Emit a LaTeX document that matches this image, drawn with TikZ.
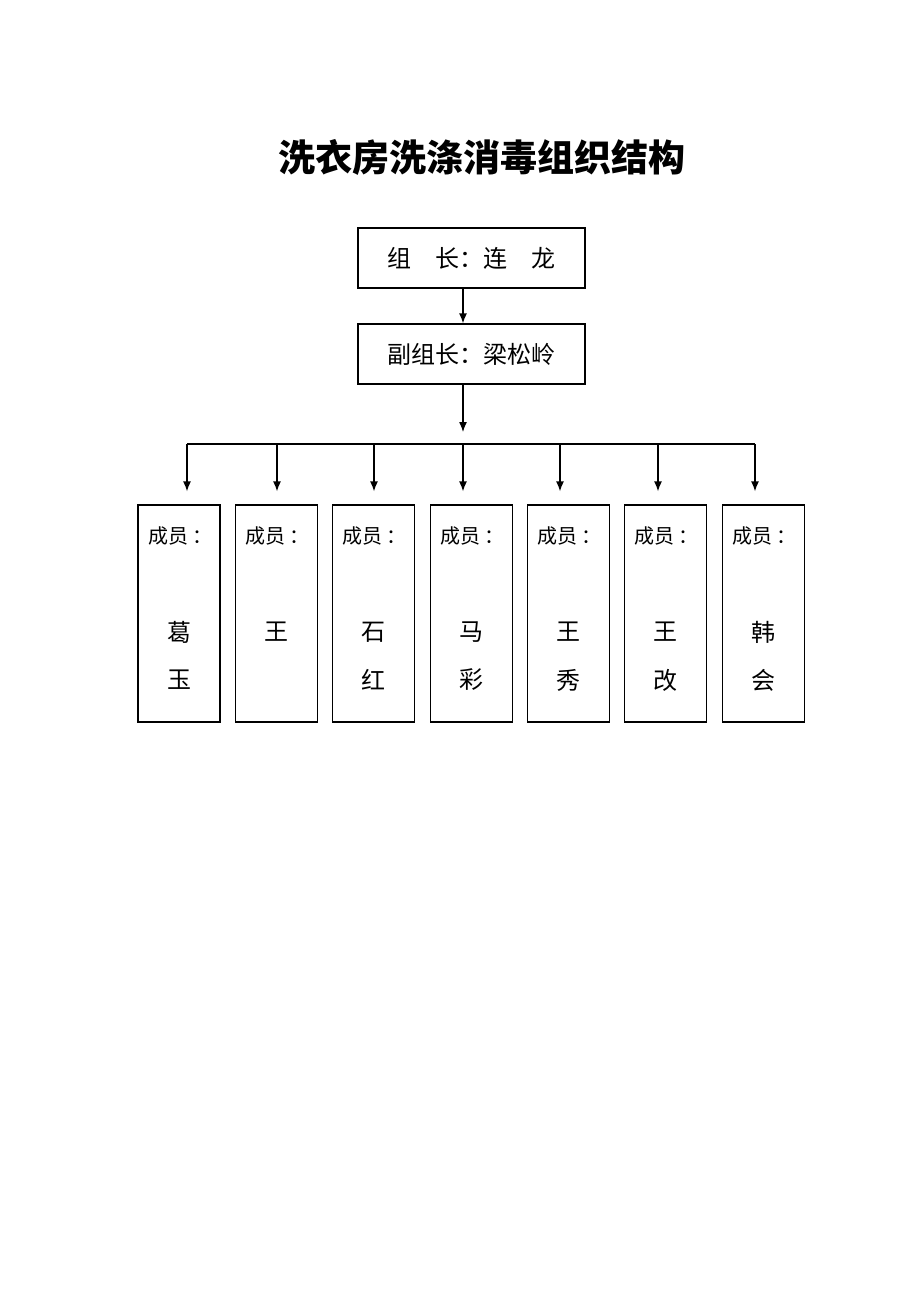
\documentclass[tikz,border=0pt]{standalone}
\usepackage{fontspec}
\setmainfont{Noto Sans CJK SC}
\usetikzlibrary{positioning,arrows.meta}

\begin{document}
\begin{tikzpicture}[x=1pt,y=-1pt,line width=1.3pt,
    headbox/.style={draw,minimum width=227pt,minimum height=60pt,font=\fontsize{24}{24}\selectfont},
    memberbox/.style={draw,minimum width=82pt,minimum height=217pt},
    roletext/.style={font=\fontsize{20}{20}\selectfont},
    nametext/.style={font=\fontsize{24}{24}\selectfont},
    arr/.style={-{Latex[length=10pt,width=8pt]}}]
    \useasboundingbox (0,0) rectangle (920,1302);

    % Title
    \node[font=\bfseries\fontsize{37}{37}\selectfont] (title) at (482,157) {洗衣房洗涤消毒组织结构};

    % Leader and deputy
    \node[headbox] (leader) at (471.5,258) {组\hspace{1em}长：连\hspace{1em}龙};
    \node[headbox] (deputy) at (471.5,354) {副组长：梁松岭};

    \coordinate (bus) at (463,444);
    \draw[arr] (leader.south -| bus) -- (deputy.north -| bus);
    \draw[arr, shorten >=12pt] (deputy.south -| bus) -- (bus);

    % Members
    \foreach \i/\bx/\ax/\na/\nb in {1/179/187/葛/玉, 2/276.5/277/王/{}, 3/373.5/374/石/红,
        4/471.5/463/马/彩, 5/568.5/560/王/秀, 6/665.5/658/王/改, 7/763.5/755/韩/会}{
        \node[memberbox] (m\i) at (\bx,613.5) {};
        \node[roletext] (r\i) at (\bx+1,536) {成员\kern4pt：};
        \node[nametext] (a\i) at (\bx,632) {\na};
        \node[nametext] (b\i) at (\bx,680) {\nb};
        \coordinate (t\i) at (\ax,444);
        \draw[arr, shorten >=13pt] (t\i) -- (m\i.north -| t\i);
    }
    \draw (t1) -- (t7);
\end{tikzpicture}
\end{document}
